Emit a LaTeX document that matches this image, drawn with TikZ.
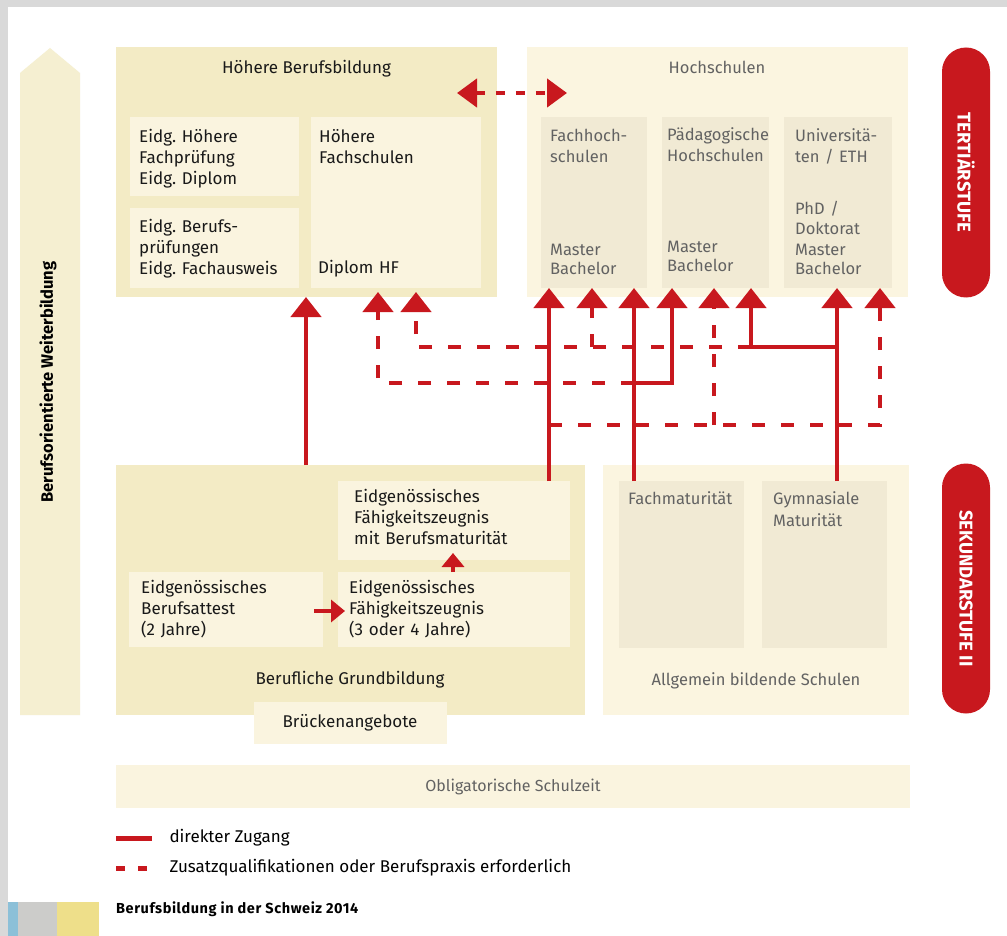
\documentclass[tikz,border=0pt]{standalone}
\usepackage{fontspec}
\setmainfont{Fira Sans}
\usepackage{xcolor}
\usetikzlibrary{arrows.meta,positioning,calc}

\definecolor{chred}{RGB}{200,24,30}
\definecolor{vocdark}{RGB}{243,235,197}
\definecolor{voclight}{RGB}{250,244,223}
\definecolor{unilight}{RGB}{251,245,224}
\definecolor{unidark}{RGB}{241,234,212}
\definecolor{txtgray}{RGB}{98,98,98}
\definecolor{framegray}{RGB}{217,217,217}
\definecolor{keyblue}{RGB}{140,192,216}
\definecolor{keygray}{RGB}{204,204,202}
\definecolor{keyyellow}{RGB}{238,223,138}

\newcommand{\boxfont}{\fontsize{17}{21}\selectfont}
\newcommand{\grayfont}{\fontsize{16.5}{21}\selectfont}
\newcommand{\pillfont}{\fontsize{18.5}{20}\selectfont\bfseries}
\frenchspacing

\begin{document}
\begin{tikzpicture}[x=1pt, y=-1pt,
    area/.style={rectangle, anchor=north west, inner sep=0pt, outer sep=0pt},
    lbl/.style={anchor=base west, inner sep=0pt, text width=220pt,
                align=left, font=\boxfont, text=black!90},
    glbl/.style={lbl, font=\grayfont, text=txtgray},
    ttl/.style={anchor=base, inner sep=0pt, font=\boxfont, text=black!90},
    pill/.style={rectangle, fill=chred, rounded corners=24pt,
                 minimum width=250pt, minimum height=48pt, rotate=-90,
                 text=white, font=\pillfont, inner sep=0pt},
    direct/.style={line width=4.5pt, chred, -{Triangle[width=30pt,length=20pt]}},
    extra/.style={direct, dash pattern=on 13pt off 16pt},
    small/.style={line width=4pt, chred, -{Triangle[width=22pt,length=14pt]}},
  ]

  % === Frame ===
  \useasboundingbox (0,0) rectangle (1007,936);
  \fill[white] (0,0) rectangle (1007,936);
  \fill[framegray] (0,0) rectangle (1007,7);
  \fill[framegray] (0,0) rectangle (8,936);

  % === Weiterbildung ===
  \fill[vocdark!80!white] (20,715) -- (20,73) -- (50,48) -- (80,73) -- (80,715) -- cycle;
  \node[rotate=90, font=\fontsize{16.5}{18}\selectfont\bfseries, inner sep=0pt]
    (wb) at (48,382) {Berufsorientierte Weiterbildung};

  % === Hoehere Berufsbildung ===
  \node[area, fill=vocdark, minimum width=381pt, minimum height=250pt] (hbb) at (116,47) {};
  \node[ttl] (hbbt) at (306.5,74) {Höhere Berufsbildung};
  \node[area, fill=voclight, minimum width=169pt, minimum height=79pt] (hfp) at (130,117) {};
  \node[area, fill=voclight, minimum width=169pt, minimum height=80pt] (bp) at (130,208) {};
  \node[area, fill=voclight, minimum width=170pt, minimum height=171pt] (hf) at (311,117) {};
  \node[lbl] (hfpt) at (139,143) {Eidg. Höhere\\Fachprüfung\\Eidg. Diplom};
  \node[lbl] (bpt) at (139,233) {Eidg. Berufs-\\prüfungen\\Eidg. Fachausweis};
  \node[lbl] (hft) at (319,143) {Höhere\\Fachschulen};
  \node[lbl] (hfd) at (318,273) {Diplom HF};

  % === Hochschulen ===
  \node[area, fill=unilight, minimum width=381pt, minimum height=250pt] (hs) at (527,47) {};
  \node[ttl, font=\grayfont, text=txtgray] (hst) at (717,74) {Hochschulen};
  \node[area, fill=unidark, minimum width=106pt, minimum height=171pt] (fh) at (541,117) {};
  \node[area, fill=unidark, minimum width=107pt, minimum height=171pt] (ph) at (662,117) {};
  \node[area, fill=unidark, minimum width=108pt, minimum height=171pt] (uni) at (784,117) {};
  \node[glbl] (fht) at (550,142) {Fachhoch-\\schulen};
  \node[glbl, font=\fontsize{16.5}{19}\selectfont] (fhd) at (550,255) {Master\\Bachelor};
  \node[glbl] (pht) at (667,141) {Pädagogische\\Hochschulen};
  \node[glbl, font=\fontsize{16.5}{19}\selectfont] (phd) at (667,253) {Master\\Bachelor};
  \node[glbl] (unit) at (795,142) {Universitä-\\ten / ETH};
  \node[glbl, font=\fontsize{16.5}{20}\selectfont] (unid) at (795,215) {PhD /\\Doktorat\\Master\\Bachelor};

  % Durchlaessigkeit
  \draw[line width=4.5pt, chred, dash pattern=on 9pt off 11pt,
        {Triangle[width=28pt,length=20pt]}-{Triangle[width=28pt,length=20pt]}]
    ($(hbb.north east)+(-40,46)$) -- ($(hs.north west)+(40,46)$);

  % === Stufen ===
  \node[pill] (tert) at (966,172.5) {TERTIÄRSTUFE};
  \node[pill] (sek) at (966,588.5) {SEKUNDARSTUFE II};

  % === Berufliche Grundbildung ===
  \node[area, fill=vocdark, minimum width=469pt, minimum height=250pt] (grund) at (116,465) {};
  \node[area, fill=voclight, minimum width=232pt, minimum height=79pt] (bm) at (338,481) {};
  \node[area, fill=voclight, minimum width=194pt, minimum height=75pt] (ba) at (129,572) {};
  \node[area, fill=voclight, minimum width=232pt, minimum height=75pt] (efz) at (338,572) {};
  \node[lbl] (bmt) at (354,502) {Eidgenössisches\\Fähigkeitszeugnis\\mit Berufsmaturität};
  \node[lbl] (bat) at (141,593) {Eidgenössisches\\Berufsattest\\(2 Jahre)};
  \node[lbl] (efzt) at (349,593) {Eidgenössisches\\Fähigkeitszeugnis\\(3 oder 4 Jahre)};
  \node[ttl] (grundt) at (350,684) {Berufliche Grundbildung};
  \node[rectangle, fill=voclight, minimum width=193pt, minimum height=42pt,
        font=\boxfont, text=black!90, inner sep=0pt] (bruecke) at (350,723) {Brückenangebote};

  \coordinate (rowS) at (0,611);
  \coordinate (colS) at (453,0);
  \draw[small] ([xshift=-9pt]ba.east |- rowS) -- ([xshift=7pt]efz.west |- rowS);
  \draw[small] (efz.north -| colS) -- ([yshift=7pt]bm.south -| colS);

  % === Allgemein bildende Schulen ===
  \node[area, fill=unilight, minimum width=306pt, minimum height=250pt] (allg) at (603,465) {};
  \node[area, fill=unidark, minimum width=125pt, minimum height=167pt] (fm) at (619,481) {};
  \node[area, fill=unidark, minimum width=125pt, minimum height=167pt] (gm) at (762,481) {};
  \node[glbl] (fmt) at (628,504) {Fachmaturität};
  \node[glbl, font=\fontsize{16.5}{22}\selectfont] (gmt) at (773,504) {Gymnasiale\\Maturität};
  \node[ttl, font=\grayfont, text=txtgray] (allgt) at (756,685) {Allgemein bildende Schulen};

  % === Obligatorische Schulzeit ===
  \node[area, fill=voclight, minimum width=794pt, minimum height=43pt] (obl) at (116,765) {};
  \node[ttl, text=txtgray, font=\fontsize{16}{19}\selectfont] (oblt) at (513,791) {Obligatorische Schulzeit};

  % === Zugaenge ===
  \coordinate (cA) at (306,0);
  \coordinate (cB) at (378,0);
  \coordinate (cC) at (416,0);
  \coordinate (cD) at (549,0);
  \coordinate (cE) at (592,0);
  \coordinate (cF) at (634,0);
  \coordinate (cG) at (672,0);
  \coordinate (cH) at (714,0);
  \coordinate (cI) at (751,0);
  \coordinate (cJ) at (837,0);
  \coordinate (cK) at (880,0);
  \coordinate (r1) at (0,347);
  \coordinate (r2) at (0,383);
  \coordinate (r3) at (0,425);

  % direct
  \draw[direct] (grund.north -| cA) -- (hbb.south -| cA);
  \draw[direct] (bm.north -| cD) -- (fh.south -| cD);
  \draw[direct] (fm.north -| cF) -- (fh.south -| cF);
  \draw[direct] (cF |- r2) -| (ph.south -| cG);
  \draw[direct] (gm.north -| cJ) -- (uni.south -| cJ);
  \draw[direct] (cJ |- r1) -| (ph.south -| cI);

  % extra
  \draw[extra] (cF |- r2) -| ([yshift=-4pt]hf.south -| cB);
  \draw[extra] (cI |- r1) -| ([yshift=-4pt]hf.south -| cC);
  \draw[extra] (cE |- r1) -- (fh.south -| cE);
  \draw[extra] (cD |- r3) -| (uni.south -| cK);
  \draw[extra] (cH |- r3) -- (ph.south -| cH);

  % === Legende ===
  \coordinate (k1) at (116,838);
  \coordinate (k2) at (116,868);
  \draw[line width=5pt, chred] (k1) -- ++(36,0) node[right=15pt, inner sep=0pt, font=\boxfont, text=black] (k1t) {direkter Zugang};
  \draw[line width=5pt, chred, dash pattern=on 9pt off 13pt] (k2) -- ++(36,0)
    node[right=15pt, inner sep=0pt, font=\boxfont, text=black] (k2t) {Zusatzqualifikationen oder Berufspraxis erforderlich};

  \fill[keyblue] (8,902) rectangle (18,936);
  \fill[keygray] (18,902) rectangle (57,936);
  \fill[keyyellow] (57,902) rectangle (99,936);
  \node[anchor=west, inner sep=0pt,
        font=\fontsize{14.5}{16}\selectfont\bfseries\addfontfeatures{LetterSpace=4}] (src) at (116,909)
    {Berufsbildung in der Schweiz 2014};

\end{tikzpicture}
\end{document}
